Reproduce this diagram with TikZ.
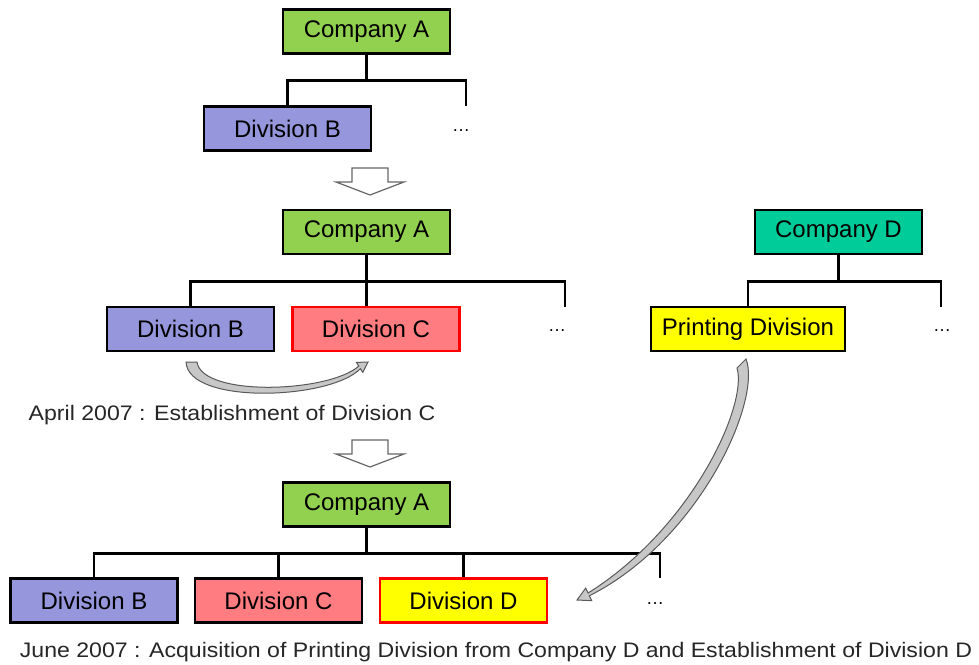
\documentclass[tikz,border=0pt]{standalone}
\usepackage{fontspec}
\setmainfont{Liberation Sans}
\usetikzlibrary{positioning,calc}
\definecolor{compA}{RGB}{146,208,80}
\definecolor{compD}{RGB}{0,204,153}
\definecolor{divB}{RGB}{150,150,220}
\definecolor{divC}{RGB}{255,124,128}
\definecolor{divY}{RGB}{255,255,0}
\begin{document}
\begin{tikzpicture}[x=1pt,y=-1pt,
unit/.style={draw,line width=2.6pt,minimum width=167pt,minimum height=44pt,
inner sep=0pt,font=\fontsize{24}{28}\selectfont},
new/.style={draw=red},
link/.style={line width=2.8pt},
etc/.style={inner sep=0pt,font=\fontsize{18}{20}\selectfont},
note/.style={inner sep=0pt,text=black!85,xscale=1.1,transform shape,
font=\fontsize{21}{24}\selectfont},
hollow/.style={draw=black!60,line width=1.2pt,fill=white},
curlarrow/.style={draw=black!65,line width=1pt,fill=black!22}]
\useasboundingbox (0,0) rectangle (979,664);
% before
\node[unit,fill=compA] (a1) at (366.5,31.5) {Company A};
\node[unit,fill=divB] (b1) at (287.5,128.5) {Division B};
\coordinate (e1) at (466,106);
\node[etc] (d1) at (461,131) {…};
\draw[link] (a1.south) -- ++(0,26) coordinate (j1);
\draw[link] (b1.north) |- (j1) -| (e1);
% April 2007
\node[unit,fill=compA] (a2) at (366.5,232) {Company A};
\node[unit,fill=divB] (b2) at (190.5,329) {Division B};
\node[unit,fill=divC,new] (c2) at (376,329) {Division C};
\coordinate (e2) at (565,307);
\node[etc] (d2) at (557,331) {…};
\draw[link] (a2.south) -- ++(0,26) coordinate (j2) -- (a2.south |- c2.north);
\draw[link] (b2.north) |- (j2) -| (e2);
\node[note] (n1) at (232,415) {April 2007 : Establishment of Division C};
% Company D
\node[unit,fill=compD] (dco) at (838.5,232) {Company D};
\node[unit,fill=divY,minimum width=194pt] (pd) at (748,329) {Printing Division};
\coordinate (e3) at (941,307);
\node[etc] (d3) at (942,331) {…};
\draw[link] (dco.south) -- ++(0,26) coordinate (j3);
\draw[link] (pd.north) |- (j3) -| (e3);
% June 2007
\node[unit,fill=compA] (a3) at (366.5,504.5) {Company A};
\node[unit,fill=divB] (b3) at (94,600.5) {Division B};
\node[unit,fill=divC] (c3) at (278.5,600.5) {Division C};
\node[unit,fill=divY,new] (dd) at (463.5,600.5) {Division D};
\coordinate (e4) at (660,578);
\node[etc] (d4) at (655,604) {…};
\draw[link] (a3.south) -- ++(0,26) coordinate (j4);
\draw[link] (b3.north) |- (j4) -| (e4);
\foreach \n in {c3,dd} \draw[link] (\n.north) -- (\n.north |- j4);
\node[note] (n2) at (496,652) {June 2007 : Acquisition of Printing Division from Company D and Establishment of Division D};
% step arrows
\foreach \y in {168,440}
\draw[hollow] (352,\y) -- ++(36,0) -- ++(0,14) -- ++(16,0) -- ++(-34,13)
-- ++(-34,-13) -- ++(16,0) -- cycle;
% curved arrows
\draw[curlarrow] (186,362) .. controls (188,405) and (330,400) .. (360.4,368.7)
-- (362.8,372.4) -- (368,362) -- (356.4,362.4) -- (358.8,366.1)
.. controls (328,393) and (202,397) .. (197,362) -- cycle;
\draw[curlarrow] (746,359) .. controls (762,400) and (700,540) .. (589.3,595.8)
-- (591.7,600.7) -- (577,600) -- (585.7,588.1) -- (588.1,593.0)
.. controls (692,528) and (748,405) .. (737,368) -- cycle;
\end{tikzpicture}
\end{document}
